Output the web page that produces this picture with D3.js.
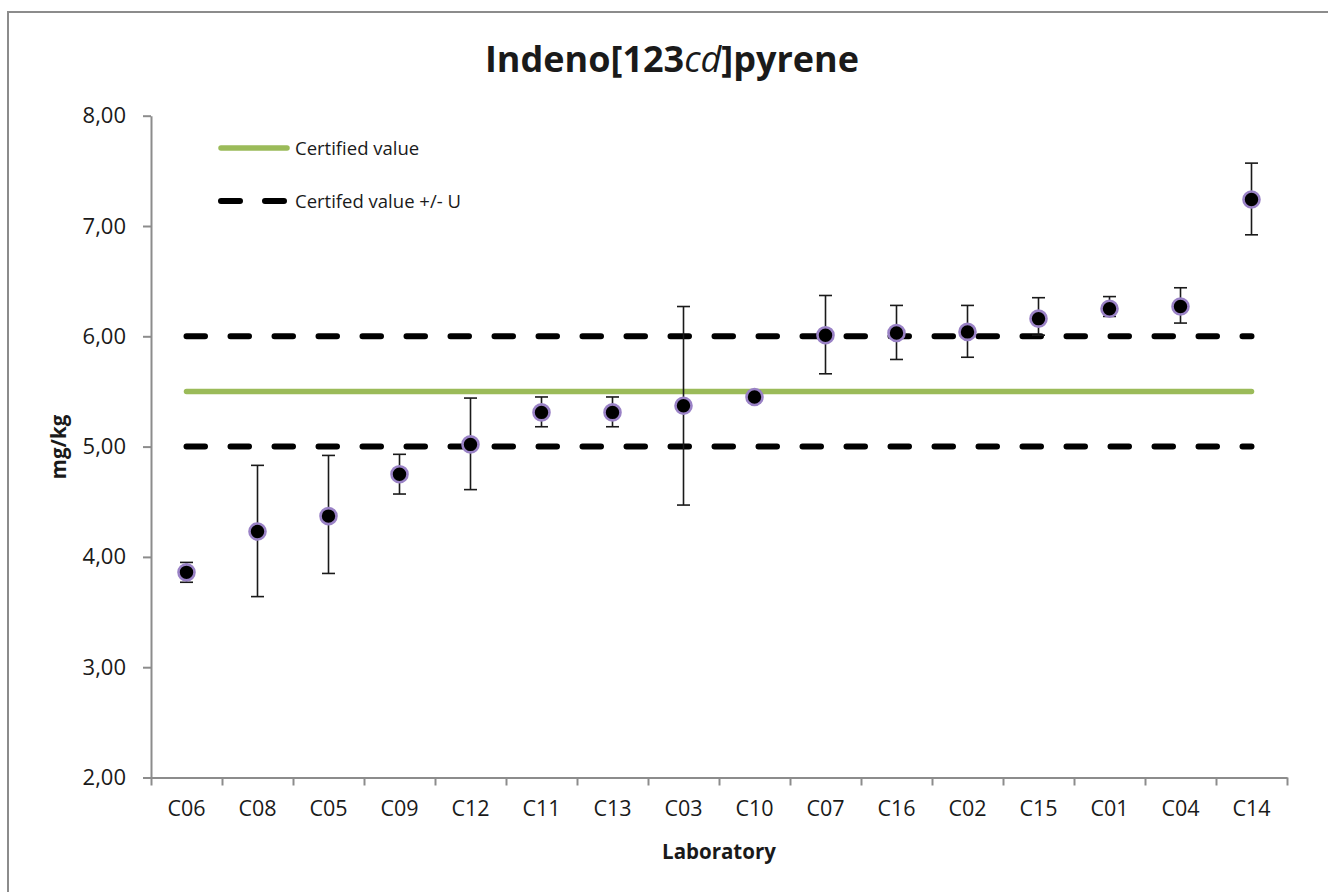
<!DOCTYPE html>
<html>
<head>
<meta charset="utf-8">
<script src="https://cdn.jsdelivr.net/npm/d3@7"></script>
<style>
  html, body { margin: 0; padding: 0; background: #fff; }
  svg { display: block; }
  text { font-family: "Open Sans", "DejaVu Sans", sans-serif; fill: #1a1a1a; }
</style>
</head>
<body>
<svg id="chart" width="1328" height="892"></svg>
<script>
// Laboratory results, sorted by mean value
const labs  = ["C06","C08","C05","C09","C12","C11","C13","C03","C10","C07","C16","C02","C15","C01","C04","C14"];
const means = [3.86, 4.23, 4.37, 4.75, 5.02, 5.31, 5.31, 5.37, 5.45, 6.01, 6.03, 6.04, 6.16, 6.25, 6.27, 7.24];
const upper = [3.95, 4.83, 4.92, 4.93, 5.44, 5.45, 5.45, 6.27, 5.50, 6.37, 6.28, 6.28, 6.35, 6.36, 6.44, 7.57];
const lower = [3.77, 3.64, 3.85, 4.57, 4.61, 5.18, 5.18, 4.47, 5.40, 5.66, 5.79, 5.81, 6.01, 6.18, 6.12, 6.92];

const certified = 5.50;
const uncertainty = 0.50;
const yTicks = [2, 3, 4, 5, 6, 7, 8];

const svg = d3.select("#chart");

// outer chart frame
svg.append("rect")
  .attr("x", 8).attr("y", 12).attr("width", 1330).attr("height", 900)
  .attr("fill", "#fff").attr("stroke", "#8c8c8c").attr("stroke-width", 2);

const plot = { left: 151, right: 1287, top: 115.7, bottom: 777.5 };

const x = d3.scaleBand().domain(labs).range([plot.left, plot.right]);
const xi = d3.scaleLinear().domain([0, labs.length]).range([plot.left, plot.right]);
const y = d3.scaleLinear().domain([2, 8]).range([plot.bottom, plot.top]);
const cx = d => x(d) + x.bandwidth() / 2;

// Y axis
const yAxis = svg.append("g")
  .attr("transform", `translate(${plot.left},0)`)
  .call(d3.axisLeft(y).tickValues(yTicks).tickSize(8).tickSizeOuter(0).tickPadding(17)
    .tickFormat(d => d3.format(".2f")(d).replace(".", ",")));
yAxis.select(".domain").attr("stroke", "#8c8c8c").attr("stroke-width", 2);
yAxis.selectAll(".tick line").attr("stroke", "#8c8c8c").attr("stroke-width", 2);
yAxis.selectAll(".tick text").attr("font-size", 22).attr("font-family", "Open Sans").attr("fill", "#1a1a1a");

// X axis: boundary ticks
const xTickAxis = svg.append("g")
  .attr("transform", `translate(0,${plot.bottom})`)
  .call(d3.axisBottom(xi).tickValues(d3.range(labs.length + 1)).tickSize(8).tickSizeOuter(0).tickFormat(""));
xTickAxis.select(".domain").attr("stroke", "#8c8c8c").attr("stroke-width", 2);
xTickAxis.selectAll(".tick line").attr("stroke", "#8c8c8c").attr("stroke-width", 2);

// X axis: category labels
const xLabAxis = svg.append("g")
  .attr("transform", `translate(0,${plot.bottom})`)
  .call(d3.axisBottom(x).tickSize(0).tickPadding(23));
xLabAxis.select(".domain").remove();
xLabAxis.selectAll(".tick text").attr("font-size", 21.5).attr("font-family", "Open Sans").attr("fill", "#1a1a1a");

// Reference lines
const xStart = cx(labs[0]), xEnd = cx(labs[labs.length - 1]);
const refLines = [
  { v: certified + uncertainty, dashed: true },
  { v: certified - uncertainty, dashed: true },
  { v: certified, dashed: false }
];
svg.append("g").selectAll("line").data(refLines).join("line")
  .attr("x1", xStart).attr("x2", xEnd)
  .attr("y1", d => y(d.v)).attr("y2", d => y(d.v))
  .attr("stroke", d => d.dashed ? "#000" : "#9BBB59")
  .attr("stroke-width", d => d.dashed ? 6 : 5.5)
  .attr("stroke-linecap", "round")
  .attr("stroke-dasharray", d => d.dashed ? "18.5,25.5" : null);

// Error bars
const eb = svg.append("g").attr("stroke", "#1a1a1a").attr("stroke-width", 1.6);
labs.forEach((lab, i) => {
  const c = cx(lab);
  eb.append("line").attr("x1", c).attr("x2", c).attr("y1", y(upper[i])).attr("y2", y(lower[i]));
  eb.append("line").attr("x1", c - 6.5).attr("x2", c + 6.5).attr("y1", y(upper[i])).attr("y2", y(upper[i]));
  eb.append("line").attr("x1", c - 6.5).attr("x2", c + 6.5).attr("y1", y(lower[i])).attr("y2", y(lower[i]));
});

// Points
svg.append("g").selectAll("circle").data(labs).join("circle")
  .attr("cx", d => cx(d))
  .attr("cy", (d, i) => y(means[i]))
  .attr("r", 8)
  .attr("fill", "#000")
  .attr("stroke", "#9A82C6")
  .attr("stroke-width", 2.6);

// Legend
const leg = svg.append("g");
leg.append("line").attr("x1", 221).attr("x2", 287).attr("y1", 148).attr("y2", 148)
  .attr("stroke", "#9BBB59").attr("stroke-width", 5.5).attr("stroke-linecap", "round");
leg.append("text").attr("x", 295).attr("y", 155).attr("font-size", 18.5).text("Certified value");
leg.append("line").attr("x1", 221).attr("x2", 287).attr("y1", 201).attr("y2", 201)
  .attr("stroke", "#000").attr("stroke-width", 6).attr("stroke-linecap", "round")
  .attr("stroke-dasharray", "19,25");
leg.append("text").attr("x", 295).attr("y", 208).attr("font-size", 18.5).text("Certifed value +/- U");

// Title
const title = svg.append("text")
  .attr("x", 672).attr("y", 72).attr("text-anchor", "middle")
  .attr("font-size", 36).attr("font-weight", "bold");
title.append("tspan").text("Indeno[123");
title.append("tspan").attr("font-style", "italic").attr("font-weight", "normal").text("cd");
title.append("tspan").text("]pyrene");

// Axis titles
svg.append("text")
  .attr("transform", "translate(66,447) rotate(-90)")
  .attr("text-anchor", "middle").attr("font-size", 20.5).attr("font-weight", "bold")
  .text("mg/kg");
svg.append("text")
  .attr("x", 719).attr("y", 859).attr("text-anchor", "middle")
  .attr("font-size", 20.5).attr("font-weight", "bold")
  .text("Laboratory");
</script>
</body>
</html>
